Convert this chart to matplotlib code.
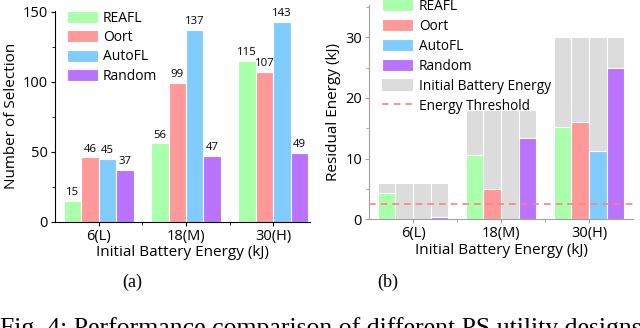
import matplotlib
matplotlib.use('Agg')
import matplotlib.pyplot as plt
import numpy as np
from matplotlib.ticker import MultipleLocator, FixedLocator

plt.rcParams['font.family'] = ['Open Sans', 'DejaVu Sans']

groups = ['6(L)', '18(M)', '30(H)']
methods = ['REAFL', 'Oort', 'AutoFL', 'Random']
colors = ['#aaffaa', '#ff9999', '#80ccff', '#b973ff']

# (a) number of selection
selection = {
    'REAFL':  [15, 56, 115],
    'Oort':   [46, 99, 107],
    'AutoFL': [45, 137, 143],
    'Random': [37, 47, 49],
}

# (b) residual energy (kJ)
initial_energy = [6, 18, 30]
residual = {
    'REAFL':  [4.3, 10.6, 15.2],
    'Oort':   [0.0, 5.0, 16.0],
    'AutoFL': [0.0, 0.0, 11.3],
    'Random': [0.4, 13.4, 24.9],
}
threshold = 2.5

fig = plt.figure(figsize=(6.4, 3.28), dpi=100)
ax1 = fig.add_axes([55/640, 1-221.7/328, 255/640, 210.7/328])
ax2 = fig.add_axes([369/640, 1-219.3/328, 264/640, 214.3/328])

x = np.arange(len(groups))
w = 0.2
offsets = (np.arange(4) - 1.5) * w

################# (a) ##################
for i, m in enumerate(methods):
    bars = ax1.bar(x + offsets[i], selection[m], w, color=colors[i],
                   edgecolor='white', linewidth=0.8, label=m)
    for b, v in zip(bars, selection[m]):
        ax1.text(b.get_x() + b.get_width()/2, v + 2, str(v),
                 ha='center', va='bottom', fontsize=8.2)

ax1.set_xlim(-0.5, 2.42)
ax1.set_ylim(0, 150.5)
ax1.yaxis.set_major_locator(FixedLocator([0, 50, 100, 150]))
ax1.yaxis.set_minor_locator(MultipleLocator(25))
ax1.set_ylabel('Number of Selection', fontsize=11, labelpad=3)
ax1.legend(loc='upper left', bbox_to_anchor=(67/640, 1-11/328),
           bbox_transform=fig.transFigure, frameon=False, fontsize=10,
           handlelength=2.2, handleheight=0.95, handletextpad=0.4,
           labelspacing=0.3, borderpad=0, borderaxespad=0)

################# (b) ##################
for i, m in enumerate(methods):
    ax2.bar(x + offsets[i], initial_energy, w, color='#dcdcdc',
            edgecolor='white', linewidth=0.8)
for i, m in enumerate(methods):
    ax2.bar(x + offsets[i], residual[m], w, color=colors[i],
            edgecolor='white', linewidth=0.8, label=m)
ax2.bar([0], [0], w, color='#dcdcdc', label='Initial Battery Energy')
ax2.axhline(threshold, color='#ff8080', linestyle=(0, (4, 3)), linewidth=1.2,
            label='Energy Threshold')

ax2.set_xlim(-0.5, 2.5)
ax2.set_ylim(0, 35.3)
ax2.yaxis.set_major_locator(FixedLocator([0, 10, 20, 30]))
ax2.yaxis.set_minor_locator(MultipleLocator(5))
ax2.set_ylabel('Residual Energy (kJ)', fontsize=11, labelpad=3)
h, l = ax2.get_legend_handles_labels()
order = [l.index(n) for n in methods + ['Initial Battery Energy', 'Energy Threshold']]
ax2.legend([h[k] for k in order], [l[k] for k in order],
           loc='upper left', bbox_to_anchor=(382/640, 1+1/328),
           bbox_transform=fig.transFigure, frameon=False, fontsize=9.8,
           handlelength=2.3, handleheight=0.95, handletextpad=0.4,
           labelspacing=0.36, borderpad=0, borderaxespad=0)

for ax, sc in ((ax1, 'black'), (ax2, '#a0a0a0')):
    ax.spines['top'].set_visible(False)
    ax.spines['right'].set_visible(False)
    ax.spines['left'].set_color(sc)
    ax.spines['bottom'].set_color(sc)
    ax.set_xticks(x)
    ax.set_xticklabels(groups)
    ax.xaxis.set_minor_locator(FixedLocator([0.5, 1.5]))
    ax.tick_params(axis='both', which='major', labelsize=10.5, length=3,
                   color=sc, pad=2)
    ax.tick_params(axis='both', which='minor', length=2, color=sc)
    ax.set_xlabel('Initial Battery Energy (kJ)', fontsize=11, labelpad=1)

fig.text(132/640, 1-282/328, '(a)', ha='center', va='center',
         fontsize=13, family='Liberation Serif')
fig.text(388/640, 1-282/328, '(b)', ha='center', va='center',
         fontsize=13, family='Liberation Serif')
fig.text(0, -7/328, 'Fig. 4: Performance comparison of different PS utility designs',
         ha='left', va='baseline', fontsize=18.5, family='Liberation Serif')

fig.savefig('out.png', dpi=100)
